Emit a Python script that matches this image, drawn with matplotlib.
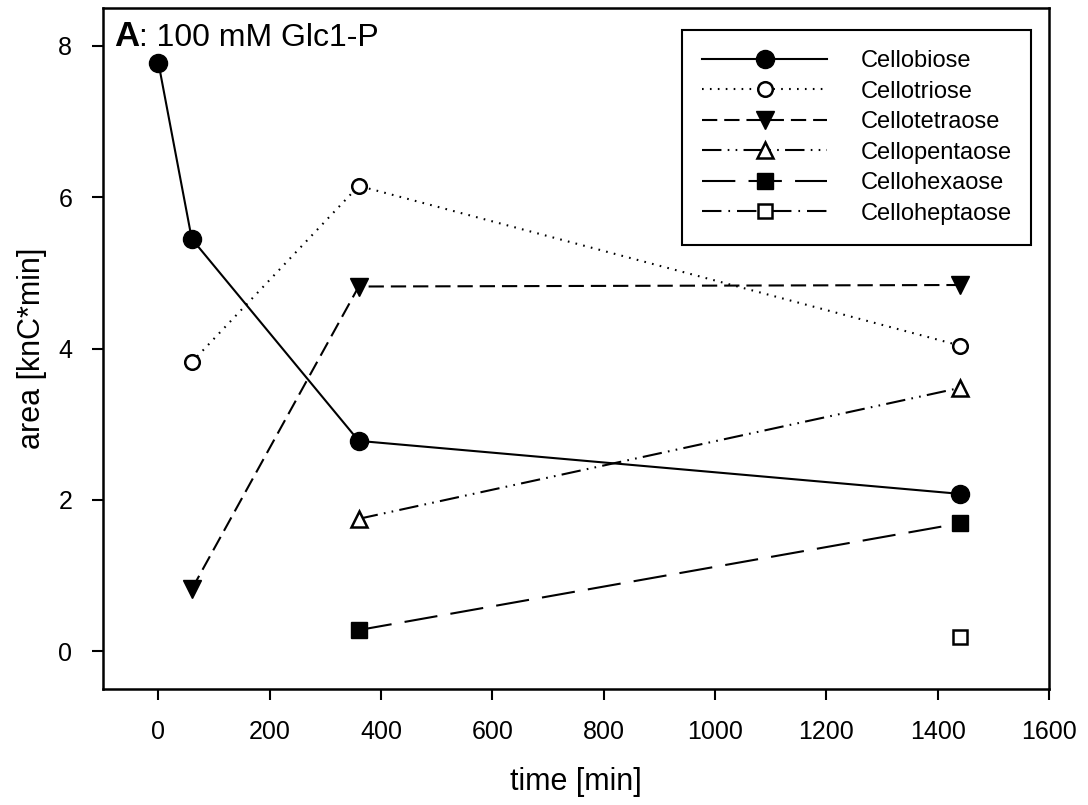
import matplotlib.pyplot as plt
import numpy as np

plt.rcParams['font.family'] = ['Liberation Sans', 'DejaVu Sans']
plt.rcParams['lines.scale_dashes'] = False

# data
t_biose = [0, 60, 360, 1440]
cellobiose = [7.78, 5.45, 2.78, 2.08]
t_triose = [60, 360, 1440]
cellotriose = [3.82, 6.15, 4.04]
t_tetraose = [60, 360, 1440]
cellotetraose = [0.82, 4.82, 4.84]
t_pentaose = [360, 1440]
cellopentaose = [1.75, 3.48]
t_hexaose = [360, 1440]
cellohexaose = [0.28, 1.69]
t_heptaose = [1440]
celloheptaose = [0.19]

labels = ['Cellobiose', 'Cellotriose', 'Cellotetraose',
          'Cellopentaose', 'Cellohexaose', 'Celloheptaose']
xticks = [0, 200, 400, 600, 800, 1000, 1200, 1400, 1600]
yticks = [0, 2, 4, 6, 8]

fig = plt.figure(figsize=(10.88, 8.05), dpi=100)
ax = fig.add_axes([0.0944, 0.144, 0.8697, 0.846])

ax.plot(t_biose, cellobiose, '-', color='k', lw=1.5, marker='o', ms=13,
        mfc='k', mec='k', label=labels[0])
ax.plot(t_triose, cellotriose, color='k', lw=1.5, ls=(0, (1.2, 4.5)), marker='o',
        ms=10.5, mfc='white', mec='k', mew=1.8, label=labels[1])
ax.plot(t_tetraose, cellotetraose, color='k', lw=1.5, ls=(0, (11, 5)), marker='v',
        ms=12.5, mfc='k', mec='k', label=labels[2])
ax.plot(t_pentaose, cellopentaose, color='k', lw=1.5,
        ls=(0, (14, 4.5, 1.2, 4.5, 1.2, 4.5)), marker='^', ms=11,
        mfc='white', mec='k', mew=1.8, label=labels[3])
ax.plot(t_hexaose, cellohexaose, color='k', lw=1.5, ls=(0, (24, 9.5)), marker='s',
        ms=12, mfc='k', mec='k', label=labels[4])
ax.plot(t_heptaose, celloheptaose, color='k', lw=1.5, ls=(0, (14, 5, 1.2, 5)),
        marker='s', ms=9.5, mfc='white', mec='k', mew=1.8, label=labels[5])

ax.set_xlim(-100, 1600)
ax.set_ylim(-0.5, 8.5)
ax.set_xticks(xticks)
ax.set_yticks(yticks)
ax.tick_params(direction='out', length=8, width=1.5, labelsize=18, pad=14,
               top=False, right=False)
for s in ax.spines.values():
    s.set_linewidth(1.8)

ax.set_xlabel('time [min]', fontsize=22, labelpad=17)
ax.set_ylabel('area [knC*min]', fontsize=22, labelpad=8)

t = ax.text(0.012, 0.983, 'A', transform=ax.transAxes, fontsize=25,
            fontweight='bold', va='top', ha='left')
ax.annotate(': 100 mM Glc1-P', xy=(1, 0), xycoords=t, fontsize=23,
            va='bottom', ha='left')

leg = ax.legend(loc='upper right', fontsize=17, handlelength=5.3,
                handletextpad=1.4, labelspacing=0.36, borderpad=0.85,
                fancybox=False, edgecolor='k', framealpha=1,
                bbox_to_anchor=(0.994, 0.985))
leg.get_frame().set_linewidth(1.5)

fig.savefig('out.png', dpi=100)
